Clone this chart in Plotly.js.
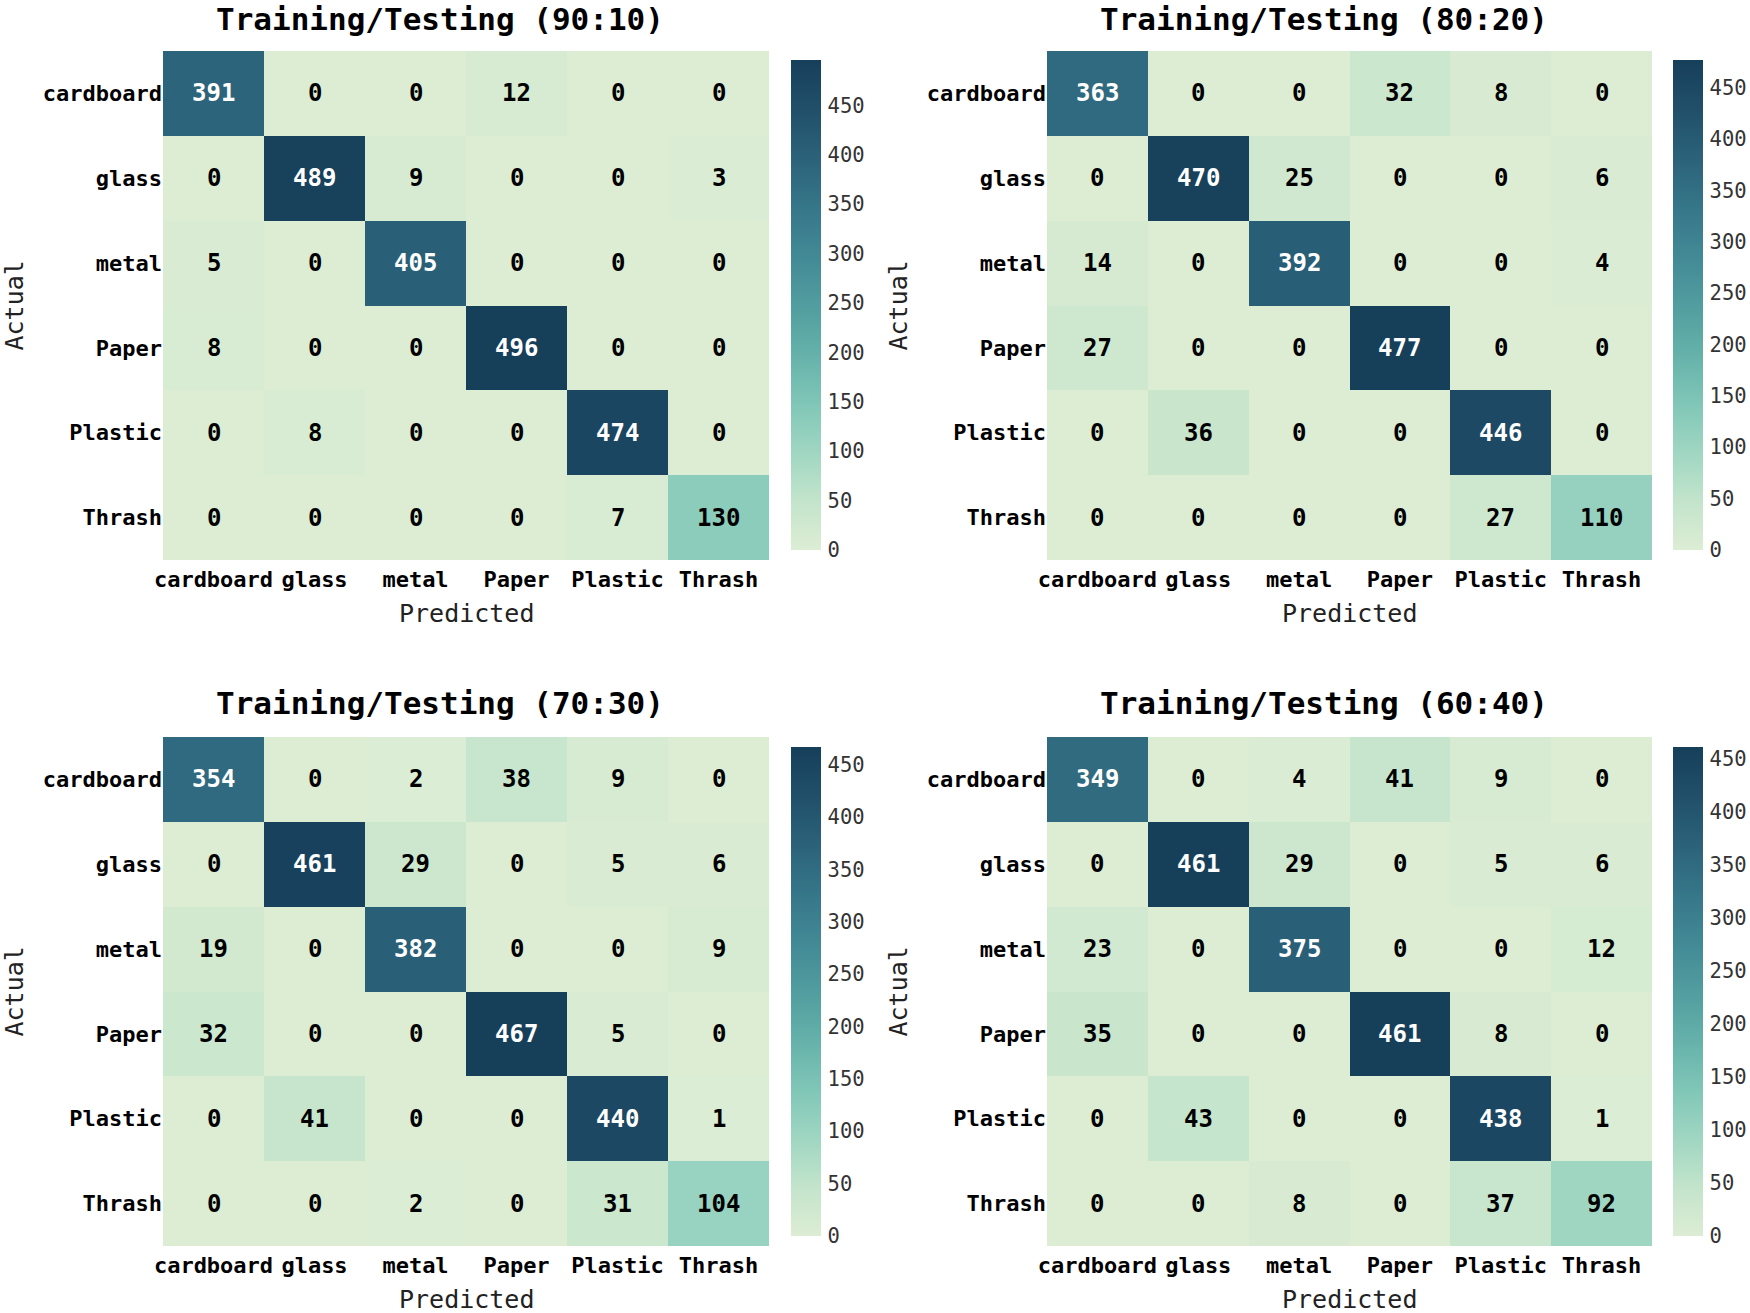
<!DOCTYPE html>
<html>
<head>
<meta charset="utf-8">
<script src="https://cdn.plot.ly/plotly-3.0.1.min.js"></script>
<style>
  html, body { margin: 0; padding: 0; background: #ffffff; }
  #chart { width: 1750px; height: 1313px; }
</style>
</head>
<body>
<div id="chart"></div>
<script>
// ---- data ----
const categories = ['cardboard', 'glass', 'metal', 'Paper', 'Plastic', 'Thrash'];
const titles = ['Training/Testing (90:10)', 'Training/Testing (80:20)', 'Training/Testing (70:30)', 'Training/Testing (60:40)'];
const cm9010 = [
  [391, 0, 0, 12, 0, 0],
  [0, 489, 9, 0, 0, 3],
  [5, 0, 405, 0, 0, 0],
  [8, 0, 0, 496, 0, 0],
  [0, 8, 0, 0, 474, 0],
  [0, 0, 0, 0, 7, 130]
];
const cm8020 = [
  [363, 0, 0, 32, 8, 0],
  [0, 470, 25, 0, 0, 6],
  [14, 0, 392, 0, 0, 4],
  [27, 0, 0, 477, 0, 0],
  [0, 36, 0, 0, 446, 0],
  [0, 0, 0, 0, 27, 110]
];
const cm7030 = [
  [354, 0, 2, 38, 9, 0],
  [0, 461, 29, 0, 5, 6],
  [19, 0, 382, 0, 0, 9],
  [32, 0, 0, 467, 5, 0],
  [0, 41, 0, 0, 440, 1],
  [0, 0, 2, 0, 31, 104]
];
const cm6040 = [
  [349, 0, 4, 41, 9, 0],
  [0, 461, 29, 0, 5, 6],
  [23, 0, 375, 0, 0, 12],
  [35, 0, 0, 461, 8, 0],
  [0, 43, 0, 0, 438, 1],
  [0, 0, 8, 0, 37, 92]
];
const xLabel = 'Predicted';
const yLabel = 'Actual';

// ---- styling ----
const W = 1750, H = 1313;
const FONT = 'DejaVu Sans Mono, Liberation Mono, monospace';
const colorscale = [
  [0.00, '#dcedd4'],
  [0.10, '#c3e4cb'],
  [0.20, '#9fd6c2'],
  [0.30, '#80c6b7'],
  [0.40, '#65b1aa'],
  [0.50, '#519d9f'],
  [0.60, '#428995'],
  [0.70, '#367689'],
  [0.80, '#2b627a'],
  [0.90, '#214f6a'],
  [1.00, '#163f5a']
];

// pixel boxes of each panel [left, right, top, bottom]
const panels = [
  {mat: cm9010, box: [163, 769, 51, 560], cb: [791, 60, 550]},
  {mat: cm8020, box: [1047, 1652, 51, 560], cb: [1673, 60, 550]},
  {mat: cm7030, box: [163, 769, 737, 1246], cb: [791, 747, 1236]},
  {mat: cm6040, box: [1047, 1652, 737, 1246], cb: [1673, 747, 1236]}
];

const px = v => v / W;
const py = v => 1 - v / H;

const data = [];
const annotations = [];
const layout = {
  width: W, height: H,
  margin: {l: 0, r: 0, t: 0, b: 0},
  paper_bgcolor: '#ffffff',
  plot_bgcolor: '#ffffff',
  showlegend: false,
  font: {family: FONT, color: '#000000'}
};

panels.forEach((p, k) => {
  const idx = k === 0 ? '' : String(k + 1);
  const xa = 'x' + idx, ya = 'y' + idx;
  const zmax = Math.max(...p.mat.flat());
  const [l, r, t, b] = p.box;
  const [cbx, cbt, cbb] = p.cb;

  data.push({
    type: 'heatmap',
    x: categories,
    y: categories,
    z: p.mat,
    zmin: 0,
    zmax: zmax,
    colorscale: colorscale,
    xaxis: xa, yaxis: ya,
    xgap: 0, ygap: 0,
    hoverinfo: 'x+y+z',
    showscale: true,
    colorbar: {
      x: px(cbx), xanchor: 'left', xpad: 0,
      y: py((cbt + cbb) / 2), yanchor: 'middle', ypad: 0,
      len: (cbb - cbt) / H, lenmode: 'fraction',
      thickness: 30, thicknessmode: 'pixels',
      outlinewidth: 0,
      tickmode: 'linear', tick0: 0, dtick: 50,
      ticks: 'outside', ticklen: 3, tickcolor: 'rgba(0,0,0,0)',
      tickfont: {family: FONT, size: 20.5, color: '#333333'}
    }
  });

  const axBase = {
    type: 'category',
    showgrid: false, zeroline: false, showline: false,
    ticks: '', fixedrange: true,
    tickfont: {family: FONT, size: 22, color: '#000000', weight: 'bold'}
  };
  layout['xaxis' + idx] = Object.assign({}, axBase, {
    domain: [px(l), px(r)],
    anchor: ya,
    ticklabelstandoff: 4
  });
  layout['yaxis' + idx] = Object.assign({}, axBase, {
    domain: [py(b), py(t)],
    anchor: xa,
    autorange: 'reversed',
    ticklabelstandoff: 0
  });

  // cell values
  p.mat.forEach((row, i) => {
    row.forEach((v, j) => {
      annotations.push({
        xref: xa, yref: ya,
        x: categories[j], y: categories[i],
        text: String(v),
        showarrow: false,
        font: {family: FONT, size: 24, weight: 'bold', color: v / zmax > 0.5 ? '#ffffff' : '#000000'}
      });
    });
  });

  const cx = (l + r) / 2;
  // panel title
  annotations.push({
    xref: 'paper', yref: 'paper',
    x: px(cx - 26), y: py(t === 51 ? 19 : 703),
    xanchor: 'center', yanchor: 'middle',
    text: titles[k], showarrow: false,
    font: {family: FONT, size: 31, weight: 'bold', color: '#000000'}
  });
  // x axis title
  annotations.push({
    xref: 'paper', yref: 'paper',
    x: px(cx), y: py(b + 53),
    xanchor: 'center', yanchor: 'middle',
    text: xLabel, showarrow: false,
    font: {family: FONT, size: 25, color: '#222222'}
  });
  // y axis title
  annotations.push({
    xref: 'paper', yref: 'paper',
    x: px(l - 149), y: py((t + b) / 2),
    xanchor: 'center', yanchor: 'middle',
    text: yLabel, showarrow: false, textangle: -90,
    font: {family: FONT, size: 25, color: '#222222'}
  });
});

layout.annotations = annotations;

Plotly.newPlot('chart', data, layout, {displayModeBar: false, staticPlot: true});
</script>
</body>
</html>
